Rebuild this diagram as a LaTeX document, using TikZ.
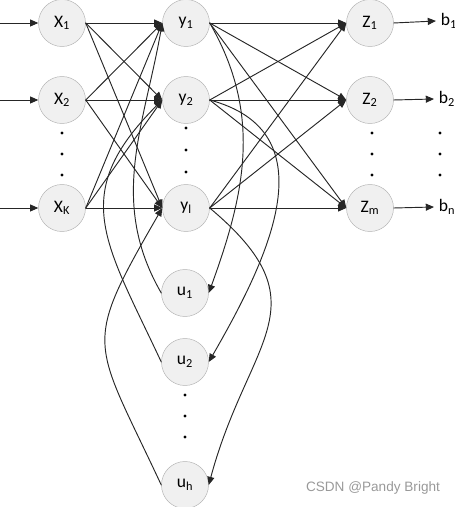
\documentclass[tikz,border=0pt]{standalone}
\usepackage{fontspec}
\setmainfont{Carlito}
\newfontfamily\markfont{Liberation Sans}
\usetikzlibrary{arrows.meta}

\begin{document}
\begin{tikzpicture}[line cap=round,line join=round,>={Triangle[length=7pt,width=6pt]},x=0.03cm,y=0.03cm,
  neuron/.style={circle,draw=black!30,fill=black!6,minimum size=1.41cm,inner sep=0pt,font=\fontsize{15}{17}\selectfont},
  link/.style={draw=black!85,line width=0.8pt,->},
  outlabel/.style={anchor=west,inner sep=4pt,font=\fontsize{15}{17}\selectfont}]
\useasboundingbox (0,0) rectangle (455,507);

\node[neuron] (x1) at (62,484) {X\textsubscript{1}};
\node[neuron] (x2) at (62,407) {X\textsubscript{2}};
\node[neuron] (xk) at (62,299) {X\textsubscript{K}};
\node[neuron] (y1) at (186,484) {y\textsubscript{1}};
\node[neuron] (y2) at (186,407) {y\textsubscript{2}};
\node[neuron] (yl) at (186,299) {y\textsubscript{l}};
\node[neuron] (z1) at (370,484) {Z\textsubscript{1}};
\node[neuron] (z2) at (370,407) {Z\textsubscript{2}};
\node[neuron] (zm) at (370,299) {Z\textsubscript{m}};
\node[neuron] (u1) at (185,214) {u\textsubscript{1}};
\node[neuron] (u2) at (185,145) {u\textsubscript{2}};
\node[neuron] (uh) at (185,22) {u\textsubscript{h}};
\node[outlabel] (b1) at (436,486) {b\textsubscript{1}};
\node[outlabel] (b2) at (434,408) {b\textsubscript{2}};
\node[outlabel] (bn) at (434,300) {b\textsubscript{n}};
\coordinate (in1) at (0,484);
\coordinate (in2) at (0,407);
\coordinate (ink) at (0,299);

\draw[link] (in1)-- (x1.west);
\draw[link] (in2)-- (x2.west);
\draw[link] (ink)-- (xk.west);

\draw[link] (x1.east)-- (y1.west);
\draw[link] (x1.east)-- (y2.west);
\draw[link] (x1.east)-- (yl.west);
\draw[link] (x2.east)-- (y1.west);
\draw[link] (x2.east)-- (y2.west);
\draw[link] (x2.east)-- (yl.west);
\draw[link] (xk.east)-- (y1.west);
\draw[link] (xk.east)-- (y2.west);
\draw[link] (xk.east)-- (yl.west);

\draw[link] (y1.east)-- (z1.west);
\draw[link] (y1.east)-- (z2.west);
\draw[link] (y1.east)-- (zm.west);
\draw[link] (y2.east)-- (z1.west);
\draw[link] (y2.east)-- (z2.west);
\draw[link] (y2.east)-- (zm.west);
\draw[link] (yl.east)-- (z1.west);
\draw[link] (yl.east)-- (z2.west);
\draw[link] (yl.east)-- (zm.west);

\draw[link] (z1.east)-- (b1.west);
\draw[link] (z2.east)-- (b2.west);
\draw[link] (zm.east)-- (bn.west);

\draw[link] (y1.east) to[out=-60,in=70] (u1.east);
\draw[link] (y2.east) to[out=-15,in=60,looseness=1.2] (u2.east);
\draw[link] (yl.east) to[out=-40,in=75,looseness=1.4] (uh.east);
\draw[link] (u1.west) to[out=120,in=-100] (y1.west);
\draw[link] (u2.west) to[out=115,in=-135,looseness=1.3] (y2.west);
\draw[link] (uh.west) to[out=115,in=-120,looseness=1.5] (yl.west);

\fill (62,374) circle (1.4pt);
\fill (62,353) circle (1.4pt);
\fill (62,332) circle (1.4pt);
\fill (186,379) circle (1.4pt);
\fill (186,357) circle (1.4pt);
\fill (186,335) circle (1.4pt);
\fill (372,374) circle (1.4pt);
\fill (372,353) circle (1.4pt);
\fill (372,332) circle (1.4pt);
\fill (440,374) circle (1.4pt);
\fill (440,353) circle (1.4pt);
\fill (440,332) circle (1.4pt);
\fill (185,112) circle (1.4pt);
\fill (185,91) circle (1.4pt);
\fill (185,70) circle (1.4pt);

\node[font=\markfont\fontsize{11.6}{13}\selectfont,text=black!40] (mark) at (373,19) {CSDN @Pandy Bright};

\end{tikzpicture}
\end{document}
